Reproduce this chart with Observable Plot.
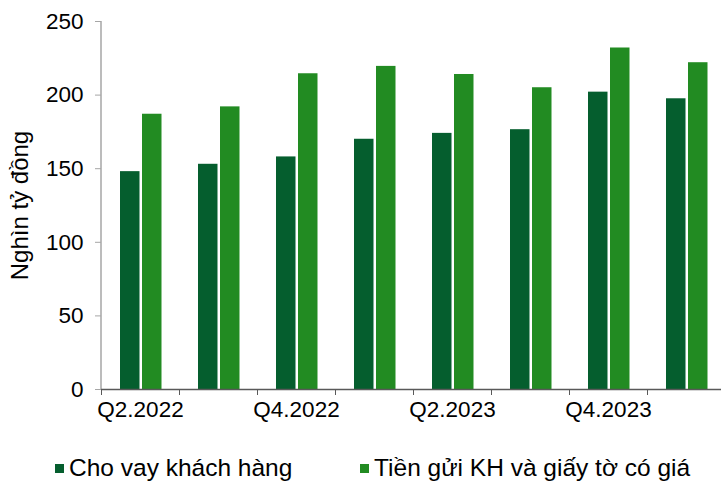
<!DOCTYPE html>
<html>
<head>
<meta charset="utf-8">
<script src="https://cdn.jsdelivr.net/npm/d3@7"></script>
<script src="https://cdn.jsdelivr.net/npm/@observablehq/plot@0.6"></script>
<style>
  html, body { margin: 0; padding: 0; background: #fff; }
  #wrap { position: relative; width: 721px; height: 483px; font-family: "Liberation Sans", Arial, sans-serif; }
  #legend { position: absolute; left: 0; top: 445px; width: 721px; height: 38px; font-size: 24.5px; color: #000; }
  .item { position: absolute; top: 0; height: 46px; display: flex; align-items: center; white-space: nowrap; }
  .sw { width: 9px; height: 9px; margin-right: 5px; display: inline-block; }
</style>
</head>
<body>
<div id="wrap">
  <div id="chart"></div>
  <div id="legend"></div>
</div>
<script>
const quarters = ["Q2.2022","Q3.2022","Q4.2022","Q1.2023","Q2.2023","Q3.2023","Q4.2023","Q1.2024"];
const loans = [148, 153, 158, 170, 174, 176.5, 202, 197.5];
const deposits = [187, 192, 214.5, 219.5, 214, 205, 232, 222];
const labeledTicks = ["Q2.2022","Q4.2022","Q2.2023","Q4.2023"];
const seriesNames = ["Cho vay khách hàng", "Tiền gửi KH và giấy tờ có giá"];
const seriesColors = ["#055E2E", "#228B22"];
const yTicks = [0, 50, 100, 150, 200, 250];
const yTitle = "Nghìn tỷ đồng";

const rows = quarters.map((q, i) => ({q, loans: loans[i], deposits: deposits[i]}));

const chart = Plot.plot({
  width: 721,
  height: 445,
  marginLeft: 101,
  marginRight: 0,
  marginTop: 21,
  marginBottom: 56,
  style: {fontFamily: "'Liberation Sans', Arial, sans-serif", fontSize: "22.5px", color: "#000", background: "#fff"},
  x: {domain: quarters, range: [101, 725], padding: 0},
  y: {domain: [0, 250]},
  marks: [
    Plot.barY(rows, {x: "q", y: "loans", fill: seriesColors[0], insetLeft: 19, insetRight: 39.5}),
    Plot.barY(rows, {x: "q", y: "deposits", fill: seriesColors[1], insetLeft: 41, insetRight: 17.5}),
    Plot.ruleX([quarters[0]], {dx: -39.5, y1: 0, y2: 250, stroke: "#a6a6a6", strokeWidth: 1.5}),
    Plot.ruleY([0], {stroke: "#595959", strokeWidth: 1.5}),
    Plot.axisY({ticks: yTicks, tickSize: 6, tickPadding: 12, stroke: "#a6a6a6", label: null}),
    Plot.axisX({tickSize: 6, dx: -39, tickFormat: () => "", stroke: "#595959", label: null}),
    Plot.axisX({ticks: labeledTicks, tickSize: 0, tickPadding: 12, label: null}),
    Plot.text([yTitle], {frameAnchor: "left", textAnchor: "middle", rotate: -90, dx: -81, fontSize: 24})
  ]
});
document.getElementById("chart").appendChild(chart);

const legend = document.getElementById("legend");
const lefts = [55, 360];
seriesNames.forEach((name, i) => {
  const it = document.createElement("div");
  it.className = "item";
  it.style.left = lefts[i] + "px";
  const sw = document.createElement("span");
  sw.className = "sw";
  sw.style.background = seriesColors[i];
  it.appendChild(sw);
  it.appendChild(document.createTextNode(name));
  legend.appendChild(it);
});
</script>
</body>
</html>
